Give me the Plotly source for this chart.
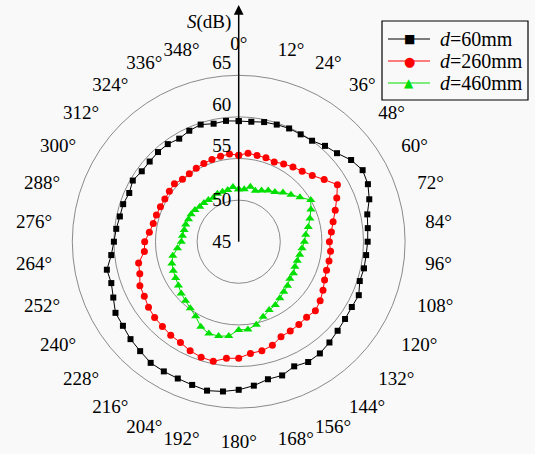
import plotly.graph_objects as go

angles = list(range(0, 360, 6))

s_60 = [59.5, 59.5, 59.7, 59.8, 59.9, 59.9, 60.0, 60.5, 60.9, 61.7,
        62.2, 62.0, 61.5, 60.8, 60.6, 60.5, 60.4, 60.4, 60.3, 60.8,
        60.7, 60.8, 61.0, 61.3, 61.6, 61.7, 61.4, 61.9, 61.9, 62.4,
        62.8, 63.1, 63.3, 63.1, 63.0, 63.0, 63.0, 62.7, 62.5, 62.2,
        62.1, 61.5, 61.1, 61.2, 60.4, 60.0, 59.8, 59.6, 59.6, 59.4,
        59.7, 59.4, 59.4, 59.5, 59.5, 59.3, 59.6, 59.8, 59.5, 59.6]

s_260 = [55.4, 55.7, 55.6, 55.6, 55.5, 55.8, 56.1, 56.4, 56.9, 57.7,
         58.7, 57.9, 57.2, 56.6, 56.2, 55.9, 56.1, 56.1, 56.1, 56.3,
         56.7, 57.1, 57.4, 57.2, 57.3, 57.4, 57.5, 58.1, 58.4, 58.5,
         59.0, 59.1, 59.7, 59.6, 59.35, 59.0, 58.9, 58.7, 58.6, 58.4,
         58.1, 58.0, 57.5, 57.3, 56.4, 56.3, 55.8, 55.5, 55.4, 55.3,
         55.25, 55.3, 55.4, 55.1, 55.1, 55.2, 55.3, 55.4, 55.5, 55.6]

s_460 = [51.3, 51.35, 51.75, 51.45, 51.75, 52.1, 52.4, 52.95, 53.45, 54.1,
         55.0, 54.5, 54.0, 53.55, 53.1, 52.9, 52.65, 52.5, 52.4, 52.4,
         52.6, 52.6, 52.9, 53.1, 53.4, 53.8, 54.0, 54.5, 55.2, 55.6,
         55.6, 56.4, 56.6, 56.6, 56.2, 55.35, 54.9, 54.55, 54.3, 53.95,
         53.75, 53.6, 53.45, 53.1, 52.4, 51.9, 51.8, 51.7, 51.7, 51.6,
         51.6, 51.5, 51.3, 51.25, 51.2, 51.1, 51.3, 51.3, 51.35, 51.6]

series_names = ["<i>d</i>=60mm", "<i>d</i>=260mm", "<i>d</i>=460mm"]
series_colors = ["#000000", "#ff0000", "#00e000"]
series_symbols = ["square", "circle", "triangle-up"]
series_glyphs = ["■", "●", "▲"]
series_sizes = [6, 7, 8]

angle_ticks = list(range(0, 360, 12))
angle_labels = [f"{a}°" for a in angle_ticks]
r_ticks = [45, 50, 55, 60, 65]
r_labels = ["45", "50", "55", "60", "65"]

FONT = "Liberation Serif, Times New Roman, serif"
BG = "#f9f9f9"

fig = go.Figure()
for vals, name, col, sym, sz in zip([s_60, s_260, s_460], series_names,
                                    series_colors, series_symbols, series_sizes):
    fig.add_trace(go.Scatterpolar(
        r=vals + vals[:1], theta=angles + angles[:1],
        mode="lines+markers", name=name, showlegend=False,
        line=dict(color=col, width=1),
        marker=dict(symbol=sym, size=sz, color=col),
    ))

W, H = 535, 454
cx, cy, R = 238.7, 241.7, 166.4
cyb = H - cy


def px(x):
    return x / W


def py(y):
    return 1 - y / H


# outer radial labels sit a little above their circles
r_text = r_labels[:2] + [lab + "<br> " for lab in r_labels[2:]]

fig.update_layout(
    width=W, height=H,
    margin=dict(l=0, r=0, t=0, b=0),
    paper_bgcolor=BG,
    font=dict(family=FONT, size=19, color="black"),
    showlegend=False,
    polar=dict(
        domain=dict(x=[(cx - R) / W, (cx + R) / W], y=[(cyb - R) / H, (cyb + R) / H]),
        bgcolor=BG,
        angularaxis=dict(
            rotation=90, direction="clockwise",
            tickmode="array", tickvals=angle_ticks, ticktext=angle_labels,
            ticks="outside", ticklen=17, tickcolor="rgba(0,0,0,0)",
            showgrid=False, showline=True, linecolor="#8a8a8a", linewidth=1,
            tickfont=dict(family=FONT, size=19, color="black"),
        ),
        radialaxis=dict(
            range=[45, 65], angle=90, side="counterclockwise",
            tickmode="array", tickvals=r_ticks, ticktext=r_text,
            showline=True, linecolor="black", linewidth=1.5,
            showgrid=True, gridcolor="#8a8a8a", gridwidth=1,
            ticks="", tickangle=90,
            tickfont=dict(family=FONT, size=19, color="black"),
        ),
    ),
)

# axis arrow and title
fig.add_annotation(
    x=px(cx), y=py(5), xref="paper", yref="paper",
    ax=0, ay=72, axref="pixel", ayref="pixel",
    showarrow=True, arrowhead=2, arrowsize=1.3, arrowwidth=1.5, arrowcolor="black",
    text="",
)
fig.add_annotation(
    x=px(233), y=py(22), xref="paper", yref="paper",
    xanchor="right", yanchor="middle", showarrow=False,
    text="<i>S</i>(dB)", font=dict(family=FONT, size=19, color="black"),
)

# legend (box, sample lines, glyphs, labels)
fig.add_shape(type="rect", xref="paper", yref="paper",
              x0=px(382), x1=px(528), y0=py(100), y1=py(21),
              line=dict(color="black", width=1.2), fillcolor=BG, layer="above")
legend_y = [39, 61, 83]
glyph_sizes = [12, 13, 12]
for ly, name, col, gl, gs in zip(legend_y, series_names, series_colors, series_glyphs, glyph_sizes):
    fig.add_shape(type="line", xref="paper", yref="paper",
                  x0=px(388), x1=px(430), y0=py(ly), y1=py(ly),
                  line=dict(color=col, width=1), layer="above")
    fig.add_annotation(x=px(409), y=py(ly), xref="paper", yref="paper",
                       showarrow=False, text=gl, xanchor="center", yanchor="middle",
                       font=dict(family="DejaVu Sans", size=gs, color=col))
    fig.add_annotation(x=px(438), y=py(ly), xref="paper", yref="paper",
                       showarrow=False, text=name, xanchor="left", yanchor="middle",
                       font=dict(family=FONT, size=20, color="black"))

fig.write_html("out.html")
